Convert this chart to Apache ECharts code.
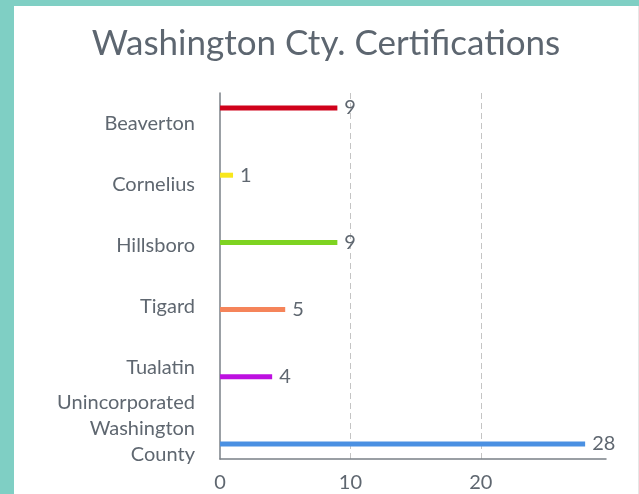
<!doctype html>
<html lang="en">
<head>
    <meta charset="UTF-8">
    <title>Washington Cty. Certifications</title>
    <style>
        html, body { margin: 0; padding: 0; }
        body { background: #7fcfc4; width: 639px; height: 494px; overflow: hidden; position: relative; }
        #main { position: absolute; left: 14px; top: 6px; width: 624px; height: 488px; background: #fff; border-right: 1px solid #e6e6e6; }
    </style>
</head>
<body>
<div id="main"></div>
<script type="text/javascript" src="https://cdn.jsdelivr.net/npm/echarts@6/dist/echarts.min.js"></script>
<script type="text/javascript">
    // data
    var cities = ['Beaverton', 'Cornelius', 'Hillsboro', 'Tigard', 'Tualatin', 'Unincorporated\nWashington\nCounty'];
    var counts = [9, 1, 9, 5, 4, 28];
    var colors = ['#d0021b', '#f8e71c', '#7ed321', '#f5845a', '#bd10e0', '#4a90e2'];
    var xTicks = [0, 10, 20];

    var textColor = '#5f6770';
    var myChart = echarts.init(document.getElementById('main'));

    // one series per city, so each bar sits in its own slot of the band
    var series = cities.map(function (name, i) {
        var d = cities.map(function (c, j) { return j === i ? counts[i] : '-'; });
        return {
            name: name,
            type: 'bar',
            data: d,
            barWidth: 5,
            barGap: '24%',
            itemStyle: { color: colors[i] },
            label: {
                show: true,
                position: 'right',
                distance: 7,
                color: textColor,
                fontFamily: 'Lato',
                fontSize: 20
            },
            silent: true,
            animation: false
        };
    });

    var option = {
        title: {
            text: 'Washington Cty. Certifications',
            left: 'center',
            top: 15,
            textStyle: { color: '#5d6670', fontFamily: 'Lato', fontSize: 35, fontWeight: 'normal' }
        },
        grid: { left: 206, top: 87, width: 386, height: 366, containLabel: false },
        xAxis: {
            type: 'value',
            min: 0,
            max: 29.6,
            interval: 10,
            axisLine: { show: true, lineStyle: { color: '#7a8087', width: 1.5 } },
            axisTick: { show: false },
            axisLabel: {
                color: textColor, fontFamily: 'Lato', fontSize: 20, margin: 14,
                showMaxLabel: false,
                formatter: function (v) { return xTicks.indexOf(v) >= 0 ? String(v) : ''; }
            },
            splitLine: { show: true, showMinLine: false, showMaxLine: false, lineStyle: { color: '#c4c4c4', type: [6, 4] } }
        },
        yAxis: {
            type: 'category',
            inverse: true,
            data: cities,
            axisLine: { show: true, lineStyle: { color: '#7a8087', width: 1.5 } },
            axisTick: { show: false },
            axisLabel: { color: textColor, fontFamily: 'Lato', fontSize: 20, margin: 25, lineHeight: 26 },
            splitLine: { show: false }
        },
        series: series
    };
    myChart.setOption(option);
</script>
</body>
</html>
